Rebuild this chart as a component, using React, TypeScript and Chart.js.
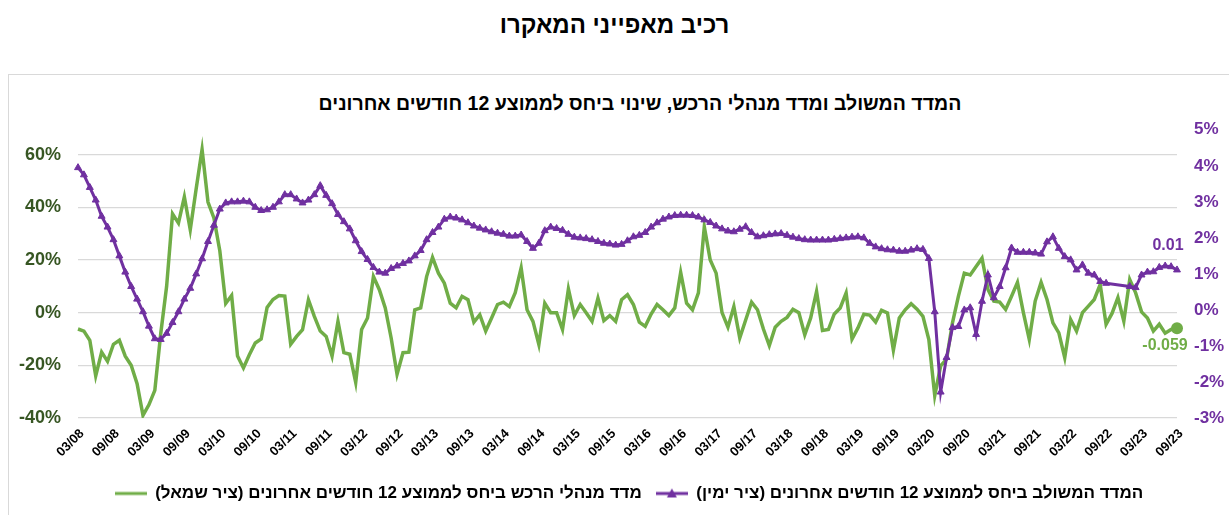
import React, { useEffect, useRef } from 'react';
import { Chart, registerables } from 'chart.js';

Chart.register(...registerables);

const FONT = '"Liberation Sans", Arial, sans-serif';
const GREEN = '#70AD47';
const GREEN_DARK = '#375623';
const PURPLE = '#7030A0';
const GRID = '#D9D9D9';
const RLM = '\u200F';

const TITLE = 'רכיב מאפייני המאקרו';
const SUBTITLE = 'המדד המשולב ומדד מנהלי הרכש, שינוי ביחס לממוצע 12 חודשים אחרונים';
const COMPOSITE_NAME = 'המדד המשולב ביחס לממוצע 12 חודשים אחרונים (ציר ימין)';
const PMI_NAME = 'מדד מנהלי הרכש ביחס לממוצע 12 חודשים אחרונים (ציר שמאל)';

// Monthly categories 03/08 .. 09/23, a tick label every 6 months
const FIRST_YEAR = 2008;
const FIRST_MONTH = 3;
const MONTH_COUNT = 187;
const LABEL_EVERY = 6;
const MONTHS: string[] = Array.from({ length: MONTH_COUNT }, (_, i) => {
  const k = FIRST_MONTH - 1 + i;
  const m = (k % 12) + 1;
  const y = (FIRST_YEAR + Math.floor(k / 12)) % 100;
  return `${String(m).padStart(2, '0')}/${String(y).padStart(2, '0')}`;
});

// Composite index vs 12-month average, % (right axis)
const COMPOSITE_PCT: (number | null)[] = [
  3.95, 3.75, 3.4, 3.05, 2.6, 2.3, 1.95, 1.5, 1.05, 0.65,
  0.3, -0.05, -0.45, -0.8, -0.82, -0.65, -0.35, -0.05, 0.3, 0.6,
  1.0, 1.42, 1.9, 2.35, 2.8, 2.97, 3.0, 3.0, 3.02, 3.0,
  2.85, 2.76, 2.78, 2.85, 3.0, 3.2, 3.2, 3.08, 2.97, 3.05,
  3.2, 3.45, 3.18, 2.95, 2.65, 2.45, 2.25, 1.92, 1.62, 1.4,
  1.18, 1.05, 1.02, 1.15, 1.22, 1.29, 1.36, 1.5, 1.65, 1.95,
  2.15, 2.3, 2.52, 2.58, 2.55, 2.5, 2.42, 2.33, 2.27, 2.22,
  2.17, 2.13, 2.1, 2.05, 2.05, 2.08, 1.9, 1.71, 1.85, 2.2,
  2.3, 2.26, 2.21, 2.1, 2.02, 2.0, 1.98, 1.95, 1.9, 1.85,
  1.83, 1.8, 1.82, 1.92, 2.03, 2.07, 2.15, 2.3, 2.42, 2.52,
  2.58, 2.62, 2.63, 2.63, 2.62, 2.58, 2.5, 2.43, 2.33, 2.25,
  2.19, 2.17, 2.24, 2.31, 2.15, 2.03, 2.06, 2.09, 2.11, 2.12,
  2.07, 2.02, 1.98, 1.95, 1.94, 1.94, 1.94, 1.94, 1.96, 1.98,
  2.0, 2.02, 2.03, 2.0, 1.85, 1.75, 1.7, 1.67, 1.66, 1.63,
  1.63, 1.66, 1.7, 1.68, 1.43, -0.05, -2.28, -1.32, -0.49, -0.46,
  0.0, 0.06, -0.68, 0.24, 0.97, 0.34, 0.65, 1.17, 1.72, 1.6,
  1.6, 1.6, 1.58, 1.55, 1.89, 2.03, 1.71, 1.48, 1.39, 1.11,
  1.25, 1.02, 0.97, 0.79, 0.74, null, null, null, 0.65, 0.62,
  0.97, 1.05, 1.06, 1.18, 1.22, 1.2, 1.11,
];

// Purchasing managers index vs 12-month average, % (left axis)
const PMI_PCT: number[] = [
  -6.2, -7, -10.5, -24, -15, -18.5, -12, -10.5, -16.5, -20,
  -27, -39, -35, -29.5, -8, 10, 37.5, 34, 44, 31.5,
  47, 62, 42, 36, 23.5, 3.5, 6.5, -16.5, -21, -16,
  -11.5, -10, 2, 5, 6.5, 6.3, -12, -9, -6.5, 4.9,
  -1.4, -7, -9, -16.5, -3.3, -15.2, -15.8, -26.5, -6.4, -2,
  13.7, 8.7, 1.8, -9.6, -23.4, -15.2, -15, 1.1, 1.8, 13.7,
  21, 15, 11.2, 3.6, 1.8, 6.2, 4.9, -3.6, -0.8, -7,
  -2, 3.1, 4, 2.3, 7.6, 17, 1.1, -3.3, -12.1, 3.6,
  0, 0, -6.4, 9, -1.1, 3.1, 0, -3.3, 5.5, -3,
  -1.1, -3.3, 4.9, 6.8, 3.1, -3.6, -5.2, -0.5, 3.1, 1.1,
  -1.1, 1.8, 15.3, 3.6, 1.1, 7.5, 32.6, 20, 15, 0,
  -5.5, 2.3, -9.6, -2.8, 4, 1.1, -6.2, -12.5, -5.5, -3.3,
  -1.8, 1.3, 0, -8.4, -2, 8, -6.8, -6.4, -0.5, 1.8,
  7.5, -10, -5.8, -0.6, -0.9, -3.6, 0.9, -0.1, -14.2, -2,
  1.1, 3.4, 1.3, -1.4, -10.2, -31.5, -20.2, -17.7, -3.9, 6.2,
  15, 14.3, 17.5, 20.7, 8.8, 4.4, 4, 1.2, 6.2, 11.5,
  0, -10.2, 4.4, 11.5, 5, -3.9, -7.7, -17.1, -2.6, -7,
  0, 2.5, 5, 10.7, -4.4, -0.3, 5.7, -3.2, 12.6, 7.5,
  0.3, -2, -7, -4.4, -7.8, -6.4, -5.9,
];

const LEFT_MIN = -0.4;
const LEFT_MAX = 0.6943;
const LEFT_STEP = 0.2;
const RIGHT_MIN = -0.03;
const RIGHT_MAX = 0.05;
const RIGHT_STEP = 0.01;

const pct = (v: number) => `${Math.round(v * 100)}%`;

function makeLegendImage(color: string, withTriangle: boolean): HTMLCanvasElement {
  const c = document.createElement('canvas');
  c.width = 32;
  c.height = 12;
  const g = c.getContext('2d')!;
  g.fillStyle = color;
  g.fillRect(0, 4.5, 32, 3);
  if (withTriangle) {
    g.beginPath();
    g.moveTo(16, 1);
    g.lineTo(21, 10);
    g.lineTo(11, 10);
    g.closePath();
    g.fill();
  }
  return c;
}

export default function App() {
  const ref = useRef<HTMLCanvasElement | null>(null);

  useEffect(() => {
    if (!ref.current) return;
    const last = MONTH_COUNT - 1;
    const purpleImg = makeLegendImage(PURPLE, true);
    const greenImg = makeLegendImage(GREEN, false);

    const endLabels = {
      id: 'endLabels',
      afterDatasetsDraw(chart: any) {
        const ctx = chart.ctx;
        const pm = chart.getDatasetMeta(0).data[last];
        const gm = chart.getDatasetMeta(1).data[last];
        ctx.save();
        ctx.font = `bold 16px ${FONT}`;
        ctx.textAlign = 'center';
        ctx.textBaseline = 'middle';
        ctx.fillStyle = PURPLE;
        ctx.fillText(((COMPOSITE_PCT[last] as number) / 100).toFixed(2), pm.x - 9, pm.y - 24);
        ctx.fillStyle = GREEN;
        ctx.fillText((PMI_PCT[last] / 100).toFixed(3), gm.x - 12, gm.y + 17);
        ctx.restore();
      },
    };

    const chart = new Chart(ref.current, {
      type: 'line',
      data: {
        labels: MONTHS,
        datasets: [
          {
            label: RLM + COMPOSITE_NAME + RLM,
            data: COMPOSITE_PCT.map((v) => (v === null ? null : v / 100)),
            yAxisID: 'yR',
            borderColor: PURPLE,
            backgroundColor: PURPLE,
            borderWidth: 3,
            pointStyle: 'triangle',
            pointRadius: 4,
            pointHoverRadius: 4,
            pointBorderWidth: 1,
            pointBackgroundColor: PURPLE,
            pointBorderColor: PURPLE,
            tension: 0,
            spanGaps: true,
          },
          {
            label: RLM + PMI_NAME + RLM,
            data: PMI_PCT.map((v) => v / 100),
            yAxisID: 'yL',
            borderColor: GREEN,
            backgroundColor: GREEN,
            borderWidth: 3.5,
            pointRadius: PMI_PCT.map((_, i) => (i === last ? 6 : 0)),
            pointHoverRadius: PMI_PCT.map((_, i) => (i === last ? 6 : 0)),
            pointBorderWidth: 0,
            pointBackgroundColor: GREEN,
            tension: 0,
          },
        ],
      },
      options: {
        responsive: false,
        animation: false,
        devicePixelRatio: 1,
        events: [],
        layout: { padding: { top: 0, bottom: 3, left: 0, right: 0 } },
        plugins: {
          tooltip: { enabled: false },
          title: { display: false },
          legend: {
            position: 'bottom',
            reverse: true,
            labels: {
              usePointStyle: true,
              pointStyleWidth: 32,
              color: '#000',
              padding: 14,
              font: { family: FONT, size: 17, weight: 'bold' },
              generateLabels: (c: any) => {
                const items = Chart.defaults.plugins.legend.labels.generateLabels(c);
                items.forEach((it: any) => {
                  it.pointStyle = it.datasetIndex === 0 ? purpleImg : greenImg;
                });
                return items;
              },
            },
          },
        },
        scales: {
          x: {
            type: 'category',
            offset: false,
            grid: { display: false, drawTicks: false },
            border: { display: false },
            ticks: {
              autoSkip: false,
              minRotation: 45,
              maxRotation: 45,
              padding: 8,
              labelOffset: 4,
              color: '#000',
              font: { family: FONT, size: 13, weight: 'bold' },
              callback: (_v: any, i: number) => (i % LABEL_EVERY === 0 ? MONTHS[i] : ''),
            },
            afterFit: (s: any) => {
              s.height = 53;
            },
          },
          yL: {
            type: 'linear',
            position: 'left',
            min: LEFT_MIN,
            max: LEFT_MAX,
            grid: { color: GRID, lineWidth: 1.3, drawTicks: false },
            border: { display: false },
            ticks: {
              stepSize: LEFT_STEP,
              includeBounds: false,
              padding: 17,
              color: GREEN_DARK,
              font: { family: FONT, size: 18, weight: 'bold' },
              callback: (v: any) => pct(Number(v)),
            },
            afterFit: (s: any) => {
              s.width = 69;
            },
          },
          yR: {
            type: 'linear',
            position: 'right',
            min: RIGHT_MIN,
            max: RIGHT_MAX,
            grid: { display: false, drawTicks: false, drawOnChartArea: false },
            border: { display: false },
            ticks: {
              stepSize: RIGHT_STEP,
              padding: 17,
              color: PURPLE,
              font: { family: FONT, size: 17, weight: 'bold' },
              callback: (v: any) => pct(Number(v)),
            },
            afterFit: (s: any) => {
              s.width = 72;
            },
          },
        },
      } as any,
      plugins: [endLabels],
    });
    return () => chart.destroy();
  }, []);

  return (
    <div
      style={{
        position: 'absolute',
        left: 0,
        top: 0,
        width: 1229,
        height: 515,
        overflow: 'hidden',
        background: '#fff',
        fontFamily: FONT,
      }}
    >
      <div
        dir="rtl"
        style={{
          position: 'absolute',
          left: 0,
          top: 13,
          width: 1229,
          textAlign: 'center',
          fontSize: 24,
          fontWeight: 'bold',
          lineHeight: '24px',
          color: '#000',
        }}
      >
        {TITLE}
      </div>
      <div
        style={{
          position: 'absolute',
          left: 8,
          top: 74,
          width: 1300,
          height: 500,
          borderLeft: `1px solid ${GRID}`,
          borderTop: `1px solid ${GRID}`,
        }}
      />
      <div
        dir="rtl"
        style={{
          position: 'absolute',
          left: 0,
          top: 93,
          width: 1280,
          textAlign: 'center',
          fontSize: 19.5,
          fontWeight: 'bold',
          lineHeight: '20px',
          color: '#000',
        }}
      >
        {SUBTITLE}
      </div>
      <canvas
        ref={ref}
        width={1240}
        height={413}
        style={{ position: 'absolute', left: 9, top: 102, width: 1240, height: 413, direction: 'ltr' }}
      />
    </div>
  );
}
